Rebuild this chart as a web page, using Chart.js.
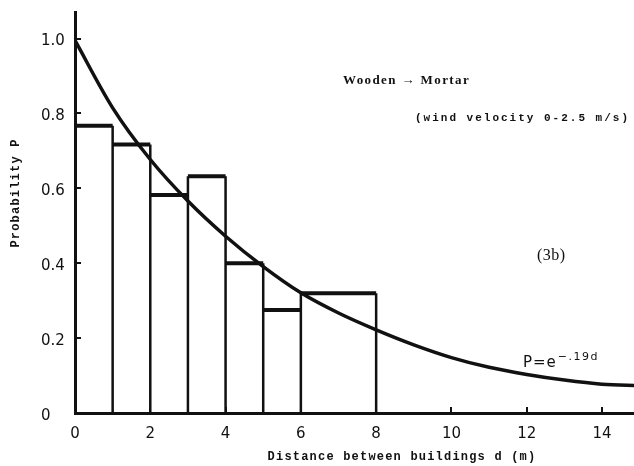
<!DOCTYPE html>
<html>
<head>
<meta charset="utf-8">
<script src="https://cdn.jsdelivr.net/npm/chart.js@4/dist/chart.umd.min.js"></script>
<style>
  html, body { margin: 0; padding: 0; background: #fff; }
  #wrap { width: 634px; height: 466px; }
</style>
</head>
<body>
<div id="wrap"><canvas id="probChart" width="634" height="466"></canvas></div>
<script>
// histogram bins (m) and observed probability per bin
const binEdges = [0, 1, 2, 3, 4, 5, 6, 8];
const binProb = [0.767, 0.717, 0.582, 0.632, 0.40, 0.275, 0.32];

// fitted curve P = e^-.19d, read at each metre
const curveD = [0, 1, 2, 3, 4, 5, 6, 7, 8, 9, 10, 11, 12, 13, 14, 15];
const curveP = [0.995, 0.815, 0.677, 0.566, 0.472, 0.391, 0.321, 0.267, 0.222, 0.182, 0.148, 0.122, 0.103, 0.088, 0.077, 0.073];

const xTicks = [0, 2, 4, 6, 8, 10, 12, 14];
const xTickLabels = ["0", "2", "4", "6", "8", "10", "12", "14"];
const yTicks = [0, 0.2, 0.4, 0.6, 0.8, 1.0];
const yTickLabels = ["0", "0.2", "0.4", "0.6", "0.8", "1.0"];

const INK = "#111";

function histogramOutline(edges, heights) {
  const pts = [];
  heights.forEach((h, i) => {
    const l = edges[i];
    const r = edges[i + 1];
    pts.push({ x: l, y: 0 }, { x: l, y: h }, { x: r, y: h }, { x: r, y: 0 });
  });
  return pts;
}

function drawSpaced(ctx, text, x, y, font, spacing, align) {
  ctx.save();
  ctx.font = font;
  ctx.letterSpacing = spacing + "px";
  ctx.textAlign = align || "left";
  ctx.textBaseline = "middle";
  ctx.fillStyle = INK;
  ctx.fillText(text, x, y);
  ctx.restore();
}

// short tick marks pointing into the plot, plus titles and notes
const decorations = {
  id: "decorations",
  afterDraw(chart) {
    const { ctx, chartArea } = chart;
    const xs = chart.scales.x;
    const ys = chart.scales.y;

    ctx.save();
    ctx.strokeStyle = INK;
    ctx.lineWidth = 2;
    ctx.beginPath();
    xs.ticks.forEach((t) => {
      const px = Math.round(xs.getPixelForValue(t.value));
      ctx.moveTo(px, chartArea.bottom);
      ctx.lineTo(px, chartArea.bottom - 6);
    });
    ys.ticks.forEach((t) => {
      const py = Math.round(ys.getPixelForValue(t.value));
      ctx.moveTo(chartArea.left, py);
      ctx.lineTo(chartArea.left + 6, py);
    });
    ctx.stroke();
    ctx.restore();

    const mono = "bold 12px 'Liberation Mono', monospace";
    drawSpaced(ctx, "Distance between buildings d (m)", 402, 457, mono, 1.2, "center");

    ctx.save();
    ctx.translate(16, 193);
    ctx.rotate(-Math.PI / 2);
    drawSpaced(ctx, "Probability P", 0, 0, mono, 1.2, "center");
    ctx.restore();

    drawSpaced(ctx, "Wooden \u2192 Mortar", 343, 81, "bold 13px 'Liberation Serif', serif", 1.4, "left");
    drawSpaced(ctx, "(wind velocity 0-2.5 m/s)", 415, 118, "bold 11px 'Liberation Mono', monospace", 2.0, "left");
    drawSpaced(ctx, "(3b)", 537, 256, "16px 'Liberation Serif', serif", 0.5, "left");

    ctx.save();
    ctx.fillStyle = INK;
    ctx.textBaseline = "alphabetic";
    ctx.font = "15px 'DejaVu Sans', sans-serif";
    ctx.letterSpacing = "1px";
    ctx.fillText("P=e", 523, 367);
    const w = ctx.measureText("P=e").width;
    ctx.font = "11px 'DejaVu Sans', sans-serif";
    ctx.letterSpacing = "1.5px";
    ctx.fillText("\u2212.19d", 523 + w + 1, 360);
    ctx.restore();
  },
};

const tickFont = { family: "'DejaVu Sans', sans-serif", size: 15 };

new Chart(document.getElementById("probChart").getContext("2d"), {
  type: "line",
  data: {
    datasets: [
      {
        label: "observed",
        data: histogramOutline(binEdges, binProb),
        borderColor: INK,
        borderWidth: 2.5,
        pointRadius: 0,
        tension: 0,
        fill: false,
        segment: {
          borderWidth: (c) => (c.p0.parsed.y === c.p1.parsed.y && c.p0.parsed.y > 0 ? 4 : 2.5),
        },
      },
      {
        label: "P = e^-.19d",
        data: curveD.map((d, i) => ({ x: d, y: curveP[i] })),
        borderColor: INK,
        borderWidth: 3.5,
        pointRadius: 0,
        cubicInterpolationMode: "monotone",
        fill: false,
      },
    ],
  },
  options: {
    responsive: false,
    animation: false,
    devicePixelRatio: 1,
    layout: { padding: { left: 41, top: 8, right: 0, bottom: 0 } },
    plugins: {
      legend: { display: false },
      tooltip: { enabled: false },
    },
    scales: {
      x: {
        type: "linear",
        min: 0,
        max: 14.85,
        afterFit: (s) => { s.height = 53; },
        afterBuildTicks: (s) => { s.ticks = xTicks.map((v) => ({ value: v })); },
        ticks: {
          includeBounds: false,
          color: INK,
          font: tickFont,
          padding: 12,
          maxRotation: 0,
          callback: (v, i) => xTickLabels[i],
        },
        grid: { display: true, drawOnChartArea: false, drawTicks: false },
        border: { display: true, color: INK, width: 3 },
      },
      y: {
        min: 0,
        max: 1.071,
        afterFit: (s) => { s.width = 34; },
        afterBuildTicks: (s) => { s.ticks = yTicks.map((v) => ({ value: v })); },
        ticks: {
          includeBounds: false,
          color: INK,
          font: tickFont,
          crossAlign: "far",
          labelOffset: 3,
          callback: (v, i) => yTickLabels[i],
        },
        grid: { display: true, drawOnChartArea: false, drawTicks: false },
        border: { display: true, color: INK, width: 3 },
      },
    },
  },
  plugins: [decorations],
});
</script>
</body>
</html>
